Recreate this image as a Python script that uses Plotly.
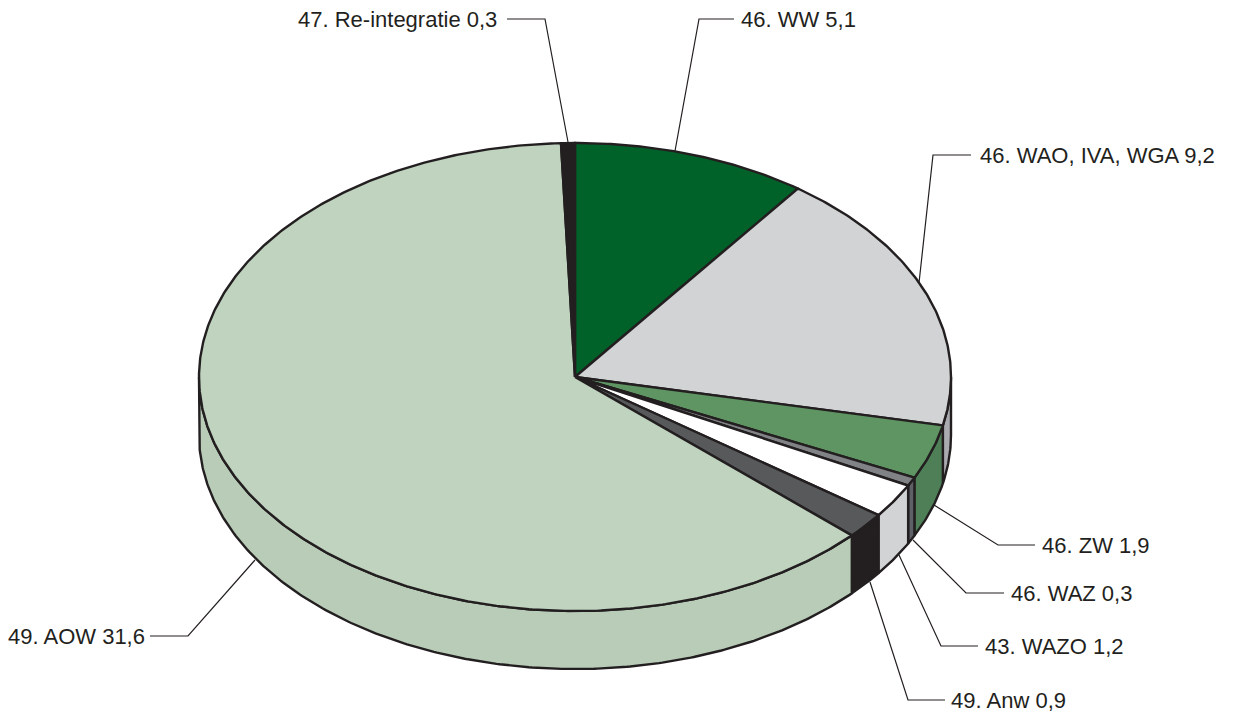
import numpy as np
import plotly.graph_objects as go

# Data, clockwise from the top of the pie
labels = ["46. WW 5,1", "46. WAO, IVA, WGA 9,2", "46. ZW 1,9", "46. WAZ 0,3",
          "43. WAZO 1,2", "49. Anw 0,9", "49. AOW 31,6", "47. Re-integratie 0,3"]
values = [5.1, 9.2, 1.9, 0.3, 1.2, 0.9, 31.6, 0.3]
top_colors = ["#006229", "#d1d3d4", "#5f9562", "#808285", "#ffffff", "#58595b", "#bfd3bf", "#231f20"]
side_colors = ["#006229", "#a9abb0", "#4f7f57", "#5d6066", "#d1d3d4", "#231f20", "#b8ccb8", "#231f20"]

# Callout layout (pixels): text anchor, then leader polyline
text_pos = [(739, 19, "left"), (978, 155, "left"), (1040, 545, "left"), (1009, 593, "left"),
            (983, 646, "left"), (949, 700, "left"), (147, 636, "right"), (499, 19, "right")]
leaders = [
    [(734, 19), (699, 19), (675, 151)],
    [(971, 155), (933, 155), (919, 283)],
    [(1035, 545), (998, 545), (934, 505)],
    [(1004, 593), (966, 593), (913, 540)],
    [(978, 646), (941, 646), (899, 555)],
    [(945, 700), (908, 700), (870, 582)],
    [(150, 636), (188, 636), (255, 560)],
    [(507, 19), (545, 19), (568, 142)],
]

CX, CY, RX, RY, DEPTH = 575, 377, 376, 234, 58
INK = "#231f20"


def arc(a, b, dy=0.0):
    t = np.radians(np.linspace(a, b, max(2, int(abs(b - a) * 2) + 2)))
    return CX + RX * np.sin(t), CY - RY * np.cos(t) + dy


fig = go.Figure()
fractions = np.array(values) / sum(values) * 360
ends = np.cumsum(fractions)
starts = ends - fractions


def add_poly(x, y, fill):
    fig.add_trace(go.Scatter(x=np.append(x, x[0]), y=np.append(y, y[0]), mode="lines", fill="toself",
                             fillcolor=fill, line=dict(color=INK, width=2.4, shape="linear"),
                             hoverinfo="skip", showlegend=False))


# Walls: only the front half of the rim (90 to 270 degrees) is visible
for a, b, c in zip(starts, ends, side_colors):
    lo, hi = max(a, 90), min(b, 270)
    if hi > lo:
        x1, y1 = arc(lo, hi)
        x2, y2 = arc(hi, lo, DEPTH)
        add_poly(np.concatenate([x1, x2]), np.concatenate([y1, y2]), c)

# Top face
for a, b, c in zip(starts, ends, top_colors):
    x1, y1 = arc(a, b)
    add_poly(np.concatenate([[CX], x1]), np.concatenate([[CY], y1]), c)

shapes = []
for pts in leaders:
    path = "M " + " L ".join(f"{x},{y}" for x, y in pts)
    shapes.append(dict(type="path", path=path, line=dict(color=INK, width=1.2), xref="x", yref="y"))

annotations = [dict(x=p[0], y=p[1], text=t, showarrow=False, xanchor=p[2], yanchor="middle",
                    xref="x", yref="y", font=dict(family="Liberation Sans", size=22, color=INK))
               for t, p in zip(labels, text_pos)]

fig.update_layout(width=1234, height=715, margin=dict(l=0, r=0, t=0, b=0),
                  paper_bgcolor="white", plot_bgcolor="white",
                  xaxis=dict(range=[0, 1234], visible=False, fixedrange=True),
                  yaxis=dict(range=[715, 0], visible=False, fixedrange=True),
                  shapes=shapes, annotations=annotations, showlegend=False)
fig.write_html("out.html", config={"displayModeBar": False},
               post_script="document.body.style.margin='0';")
